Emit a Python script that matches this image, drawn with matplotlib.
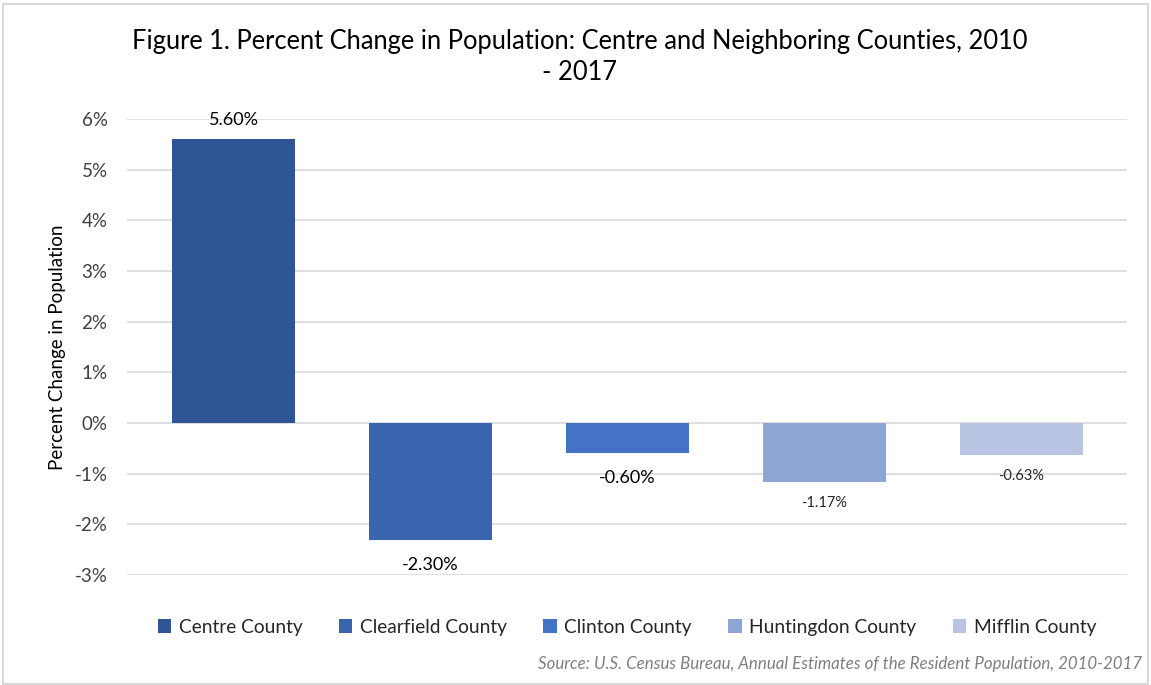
import matplotlib
matplotlib.use("Agg")
import matplotlib.pyplot as plt
from matplotlib.patches import Patch, Rectangle

counties = ["Centre County", "Clearfield County", "Clinton County", "Huntingdon County", "Mifflin County"]
values = [5.60, -2.30, -0.60, -1.17, -0.63]
labels = ["5.60%", "-2.30%", "-0.60%", "-1.17%", "-0.63%"]
label_sizes = [13, 13, 13, 10.5, 10.5]
colors = ["#2F5597", "#3A64AE", "#4472C4", "#8FA5D4", "#B9C4E3"]
yticks = [-3, -2, -1, 0, 1, 2, 3, 4, 5, 6]
ytick_labels = ["-3%", "-2%", "-1%", "0%", "1%", "2%", "3%", "4%", "5%", "6%"]

plt.rcParams['font.family'] = ['Lato', 'DejaVu Sans']

W, H = 1151, 685
fig = plt.figure(figsize=(W/100, H/100), dpi=100)
ax = fig.add_axes([127/W, 110/H, 1000/W, 456/H])

x = list(range(len(counties)))
bars = ax.bar(x, values, width=0.624, color=colors, zorder=3)
ax.set_xlim(-0.5406, 4.535)
ax.set_ylim(-3, 6)
ax.set_yticks(yticks)
ax.set_yticklabels(ytick_labels, fontsize=13.5, color="#404040")
ax.set_xticks([])
ax.tick_params(axis='y', length=0, pad=14)
for s in ax.spines.values():
    s.set_visible(False)
ax.grid(axis='y', color="#D9D9D9", linewidth=1.2, zorder=0)
ax.set_ylabel("Percent Change in Population", fontsize=13.5, color="#000000", labelpad=6)

for xi, v, lab, fs in zip(x, values, labels, label_sizes):
    if v > 0:
        off = 14
    else:
        off = -18 if fs > 11 else -15
    ax.annotate(lab, (xi, v), xytext=(0, off), textcoords="offset points",
                ha="center", va="center", fontsize=fs, color="#000000" if fs > 11 else "#262626")

fig.text(580/W, 1 - 42/H, "Figure 1. Percent Change in Population: Centre and Neighboring Counties, 2010",
         ha="center", va="center", fontsize=18.4, color="#000000")
fig.text(580/W, 1 - 72/H, "- 2017", ha="center", va="center", fontsize=18.4, color="#000000")

handles = [Patch(facecolor=c, edgecolor="none") for c in colors]
fig.legend(handles, counties, loc="center", bbox_to_anchor=(627/W, 1 - 627/H), ncol=5,
           frameon=False, fontsize=13.8, handlelength=0.7, handleheight=0.7,
           handletextpad=0.4, columnspacing=1.9, labelcolor="#262626")

fig.text(1142/W, 1 - 664/H, "Source: U.S. Census Bureau, Annual Estimates of the Resident Population, 2010-2017",
         ha="right", va="center", fontsize=12.2, style="italic", color="#7F7F7F")

fig.patches.append(Rectangle((3/W, 1/H), (W - 6)/W, (H - 5)/H, transform=fig.transFigure,
                             fill=False, edgecolor="#D9D9D9", linewidth=1.5))

fig.savefig("out.png", dpi=100)
